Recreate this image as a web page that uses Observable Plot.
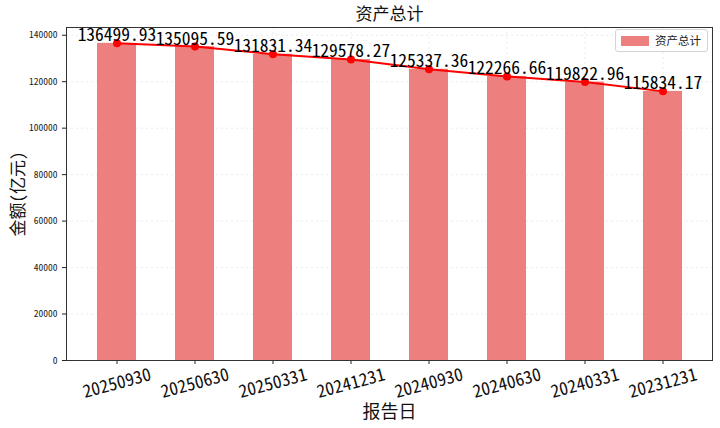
<!DOCTYPE html>
<html><head><meta charset="utf-8">
<script src="https://cdn.jsdelivr.net/npm/d3@7"></script>
<script src="https://cdn.jsdelivr.net/npm/@observablehq/plot@0.6"></script>
<style>
body{margin:0;background:#fff}
#wrap{position:relative;width:720px;height:428px}
.legend{position:absolute;left:615px;top:29px;width:93px;height:23px;border:1px solid #d4d4d4;border-radius:3px;background:rgba(255,255,255,0.85);box-sizing:border-box;font-family:"Noto Sans CJK SC",sans-serif;font-size:11.5px;color:#222}
.legend .sw{position:absolute;left:5px;top:6px;width:28px;height:10px;background:#EE7F7F}
.legend .lb{position:absolute;left:39px;top:2px;line-height:17px}
</style></head><body><div id="wrap"></div>
<script>
const dates = ["20250930","20250630","20250331","20241231","20240930","20240630","20240331","20231231"];
const values = [136499.93,135095.59,131831.34,129578.27,125337.36,122266.66,119822.96,115834.17];
const yTicks = [0,20000,40000,60000,80000,100000,120000,140000];
const seriesName = "资产总计";
const titleText = "资产总计";
const yLabel = "金额(亿元)";
const xLabel = "报告日";

const data = dates.map((d,i)=>({date:d, value:values[i], label:values[i].toFixed(2)}));
const mono = '"Noto Sans Mono CJK SC","Noto Sans CJK SC",sans-serif';
const cjk = '"Noto Sans CJK SC",sans-serif';

const chart = Plot.plot({
  width:720, height:428,
  marginLeft:66, marginRight:8, marginTop:27, marginBottom:68,
  style:{fontFamily:mono, background:"#fff", color:"#222"},
  x:{type:"band", domain:dates, paddingInner:0.5, paddingOuter:0.365, tickFormat:()=>"", tickSize:4, label:null},
  y:{domain:[0,143325], ticks:yTicks, tickFormat:d=>String(d), tickSize:4, label:null},
  marks:[
    Plot.ruleY(yTicks, {stroke:"#d0d0d0", strokeDasharray:"2,3", strokeOpacity:0.45}),
    Plot.ruleX(dates, {stroke:"#d0d0d0", strokeDasharray:"2,3", strokeOpacity:0.45}),
    Plot.barY(data, {x:"date", y:"value", fill:"#EE7F7F"}),
    Plot.line(data, {x:"date", y:"value", stroke:"#FF0000", strokeWidth:2}),
    Plot.dot(data, {x:"date", y:"value", r:4, fill:"#FF0000", stroke:"none"}),
    Plot.text(data, {x:"date", y:"value", text:"label", fontSize:17.5, fill:"#000", lineAnchor:"bottom", dy:-2, fontFamily:mono}),
    Plot.text(dates, {x:d=>d, text:d=>d, frameAnchor:"bottom", lineAnchor:"middle", textAnchor:"middle", dy:23, rotate:-15, fontSize:17.5, fill:"#111", fontFamily:mono}),
    Plot.text([titleText], {frameAnchor:"top", lineAnchor:"middle", textAnchor:"middle", dy:-13, fontSize:17, fill:"#111", fontFamily:cjk}),
    Plot.text([yLabel], {frameAnchor:"left", lineAnchor:"middle", textAnchor:"middle", dx:-48, rotate:-90, fontSize:17, fill:"#111", fontFamily:mono}),
    Plot.text([xLabel], {frameAnchor:"bottom", lineAnchor:"middle", textAnchor:"middle", dy:52, fontSize:18, fill:"#111", fontFamily:cjk}),
    Plot.frame({stroke:"#333"})
  ]
});
chart.querySelectorAll('g[aria-label="y-axis tick label"] text, g[aria-label="y-axis tick label"]').forEach(e=>e.setAttribute("font-size","9.5"));
const wrap = document.getElementById("wrap");
wrap.appendChild(chart);
const lg = document.createElement("div");
lg.className = "legend";
lg.innerHTML = '<div class="sw"></div><div class="lb"></div>';
lg.querySelector(".lb").textContent = seriesName;
wrap.appendChild(lg);
</script></body></html>
